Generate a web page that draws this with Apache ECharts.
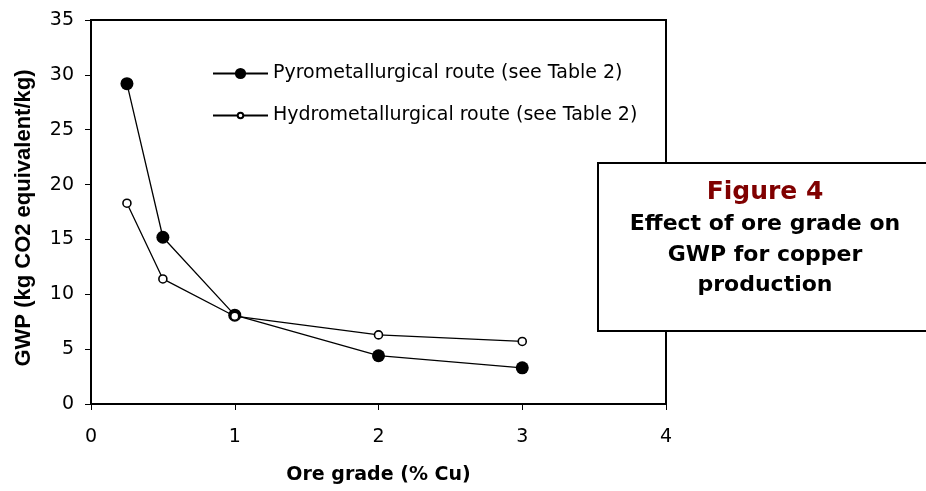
<!DOCTYPE html>
<html>
<head>
<meta charset="utf-8">
<script src="https://cdn.jsdelivr.net/npm/echarts@6/dist/echarts.min.js"></script>
<style>
  html, body { margin: 0; padding: 0; background: #fff; }
  #chart { width: 926px; height: 491px; }
</style>
</head>
<body>
<div id="chart"></div>
<script>
// ore grade (% Cu)
var oreGrade = [0.25, 0.5, 1, 2, 3];
// GWP (kg CO2 eq / kg)
var pyroGwp = [29.2, 15.2, 8.1, 4.4, 3.3];
var hydroGwp = [18.3, 11.4, 8.0, 6.3, 5.7];
var seriesNames = ['Pyrometallurgical route (see Table 2)', 'Hydrometallurgical route (see Table 2)'];
var boxLines = ['Figure 4', 'Effect of ore grade on', 'GWP for copper', 'production'];

var font = 'DejaVu Sans';

function pairs(xs, ys){
	var out = [];
	for(var i = 0; i < xs.length; i++){
		out.push([xs[i], ys[i]]);
	}
	return out;
}

var chart = echarts.init(document.getElementById('chart'));

var option = {
	animation: false,
	backgroundColor: '#fff',
	grid: {
		left: 91, right: 260, top: 20, bottom: 87,
		show: true, borderColor: '#000', borderWidth: 2
	},
	legend: [
		{
			data: [seriesNames[0]],
			left: 212, top: 64, padding: 0,
			itemWidth: 55, itemHeight: 14,
			textStyle: { fontFamily: font, fontSize: 19, color: '#000' }
		},
		{
			data: [seriesNames[1]],
			left: 212, top: 106, padding: 0,
			itemWidth: 55, itemHeight: 7,
			textStyle: { fontFamily: font, fontSize: 19, color: '#000' }
		}
	],
	xAxis: {
		type: 'value', min: 0, max: 4, interval: 1,
		name: 'Ore grade (% Cu)', nameLocation: 'middle', nameGap: 62,
		nameTextStyle: { fontFamily: font, fontSize: 19, fontWeight: 'bold', color: '#000' },
		axisLine: { lineStyle: { color: '#000', width: 2 } },
		axisTick: { show: true, length: 6, lineStyle: { color: '#000' } },
		axisLabel: { fontFamily: font, fontSize: 19, color: '#000', margin: 24 },
		splitLine: { show: false }
	},
	yAxis: {
		type: 'value', min: 0, max: 35, interval: 5,
		name: 'GWP (kg CO2 equivalent/kg)', nameLocation: 'middle', nameGap: 56,
		nameTextStyle: { fontFamily: 'Liberation Sans', fontSize: 22, fontWeight: 'bold', color: '#000', padding: [0, 12, 0, 0] },
		axisLine: { show: true, lineStyle: { color: '#000', width: 2 } },
		axisTick: { show: true, length: 6, lineStyle: { color: '#000' } },
		axisLabel: { fontFamily: font, fontSize: 19, color: '#000', margin: 17 },
		splitLine: { show: false }
	},
	series: [
		{
			name: seriesNames[0],
			type: 'line',
			data: pairs(oreGrade, pyroGwp),
			symbol: 'circle', symbolSize: 13,
			lineStyle: { color: '#000', width: 1.3 },
			itemStyle: { color: '#000' }
		},
		{
			name: seriesNames[1],
			type: 'line',
			data: pairs(oreGrade, hydroGwp),
			symbol: 'circle', symbolSize: 8,
			lineStyle: { color: '#000', width: 1.3 },
			itemStyle: { color: '#fff', borderColor: '#000', borderWidth: 1.6 }
		}
	],
	graphic: [
		{
			type: 'rect', left: 597, top: 162, z: 100,
			shape: { width: 345, height: 168 },
			style: { fill: '#fff', stroke: '#000', lineWidth: 2 }
		},
		{
			type: 'text', x: 765, y: 192, z: 101,
			style: { text: boxLines[0], fill: '#800000', font: 'bold 25px "DejaVu Sans"', textAlign: 'center', textVerticalAlign: 'middle' }
		},
		{
			type: 'text', x: 765, y: 224, z: 101,
			style: { text: boxLines[1], fill: '#000', font: 'bold 22px "DejaVu Sans"', textAlign: 'center', textVerticalAlign: 'middle' }
		},
		{
			type: 'text', x: 765, y: 255, z: 101,
			style: { text: boxLines[2], fill: '#000', font: 'bold 22px "DejaVu Sans"', textAlign: 'center', textVerticalAlign: 'middle' }
		},
		{
			type: 'text', x: 765, y: 285, z: 101,
			style: { text: boxLines[3], fill: '#000', font: 'bold 22px "DejaVu Sans"', textAlign: 'center', textVerticalAlign: 'middle' }
		}
	]
};

chart.setOption(option);
</script>
</body>
</html>
